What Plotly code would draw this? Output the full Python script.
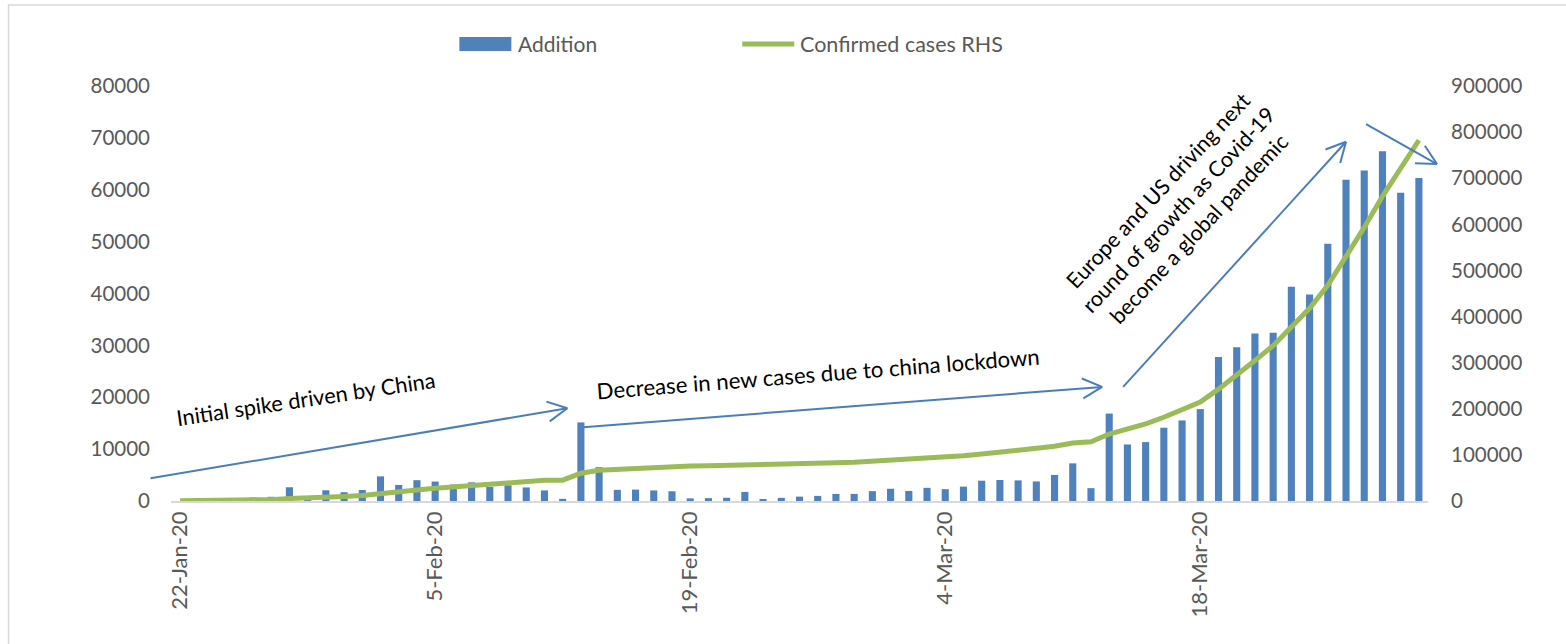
import math
import pandas as pd
import plotly.graph_objects as go

# ---------------- data ----------------
dates = pd.date_range("2020-01-22", "2020-03-30", freq="D")
categories = [f"{d.day}-{d.strftime('%b')}-{d.strftime('%y')}" for d in dates]

addition = [None, 99, 287, 493, 684, 809, 2651, 588, 2068, 1693,
            2111, 4749, 3094, 4011, 3743, 3159, 3597, 2729, 3030, 2612,
            2040, 419, 15147, 6517, 2145, 2194, 2034, 1878, 503, 558,
            622, 1753, 386, 603, 845, 982, 1358, 1366, 1899, 2358,
            1937, 2534, 2280, 2766, 3915, 4046, 3974, 3769, 5030, 7255,
            2477, 16853, 10896, 11353, 14120, 15528, 17719, 27749, 29638, 32299,
            32446, 41282, 39810, 49608, 61938, 63700, 67415, 59411, 62248]

confirmed = [555, 654, 941, 1434, 2118, 2927, 5578, 6166, 8234, 9927,
             12038, 16787, 19881, 23892, 27635, 30794, 34391, 37120, 40150, 42762,
             44802, 45221, 60368, 66885, 69030, 71224, 73258, 75136, 75639, 76197,
             76819, 78572, 78958, 79561, 80406, 81388, 82746, 84112, 86011, 88369,
             90306, 92840, 95120, 97886, 101801, 105847, 109821, 113590, 118620, 125875,
             128352, 145205, 156101, 167454, 181574, 197102, 214821, 242570, 272208, 304507,
             336953, 378235, 418045, 467653, 529591, 593291, 660706, 720117, 782365]

tick_labels = categories[::14]
left_ticks = list(range(0, 80001, 10000))
right_ticks = list(range(0, 900001, 100000))

series_names = ["Addition", "Confirmed cases RHS"]
notes = ["Initial spike driven by China",
         "Decrease in new cases due to china lockdown",
         "Europe and US driving next<br>round of growth as Covid-19<br>become a global pandemic"]

# ---------------- styling ----------------
W, H = 1566, 644
L, R, T, B = 170.5, 1428.0, 86.0, 500.7
BAR = "#4f81bd"
LINE = "#9bbb59"
ARROW = "#4a7ebb"
GREY = "#595959"
FONT = "Lato"


def px(x):
    return (x - L) / (R - L)


def py(y):
    return (B - y) / (B - T)


fig = go.Figure()
fig.add_trace(go.Bar(x=categories, y=addition, name=series_names[0],
                     marker=dict(color=BAR, line=dict(width=0)), yaxis="y"))
fig.add_trace(go.Scatter(x=categories, y=confirmed, name=series_names[1],
                         mode="lines", line=dict(color=LINE, width=5), yaxis="y2"))

shapes = []
# outer chart border
shapes.append(dict(type="rect", xref="paper", yref="paper",
                   x0=px(8), x1=px(1575), y0=py(655), y1=py(5),
                   line=dict(color="#d9d9d9", width=1.5), fillcolor="rgba(0,0,0,0)", layer="below"))


def arrow(x0, y0, x1, y1, head=True):
    shapes.append(dict(type="line", xref="paper", yref="paper",
                       x0=px(x0), y0=py(y0), x1=px(x1), y1=py(y1),
                       line=dict(color=ARROW, width=2)))
    if head:
        ang = math.atan2(y1 - y0, x1 - x0)
        hl = 22
        for s in (-1, 1):
            a = ang + math.pi + s * math.radians(27)
            hx, hy = x1 + hl * math.cos(a), y1 + hl * math.sin(a)
            shapes.append(dict(type="line", xref="paper", yref="paper",
                               x0=px(x1), y0=py(y1), x1=px(hx), y1=py(hy),
                               line=dict(color=ARROW, width=2)))


arrow(150, 478, 567, 408)
arrow(583, 427, 1102, 386.7)
arrow(1123, 386.7, 1346, 141.7)
arrow(1366, 124, 1437, 164)

# legend (custom, Excel-like)
shapes.append(dict(type="rect", xref="paper", yref="paper",
                   x0=px(459), x1=px(511), y0=py(51), y1=py(37),
                   line=dict(width=0), fillcolor=BAR))
shapes.append(dict(type="line", xref="paper", yref="paper",
                   x0=px(742), x1=px(794), y0=py(44), y1=py(44),
                   line=dict(color=LINE, width=5)))


def note(x, y, text, size, color, angle=0, anchor="center"):
    return dict(xref="paper", yref="paper", x=px(x), y=py(y), text=text,
                showarrow=False, xanchor=anchor, yanchor="middle", textangle=angle,
                align="center", font=dict(family=FONT, size=size, color=color))


annotations = [
    note(516, 44, series_names[0], 21, GREY, anchor="left"),
    note(798, 44, series_names[1], 21.5, GREY, anchor="left"),
    note(305, 398, notes[0], 21.8, "black", angle=-8.5),
    note(818, 373, notes[1], 22.2, "black", angle=-4.5),
    note(1178, 210, notes[2], 21.5, "black", angle=-47),
]

fig.update_layout(
    width=W, height=H,
    margin=dict(l=L, r=W - R, t=T, b=H - B, pad=0),
    paper_bgcolor="white", plot_bgcolor="white",
    showlegend=False,
    bargap=0.61,
    font=dict(family=FONT, color=GREY),
    xaxis=dict(type="category", categoryorder="array", categoryarray=categories,
               range=[-0.5, len(categories) - 0.5],
               tickmode="array", tickvals=tick_labels, ticktext=tick_labels,
               tickangle=-90, tickfont=dict(family=FONT, size=22, color=GREY),
               showline=True, linecolor="#d9d9d9", linewidth=1.5,
               showgrid=False, zeroline=False, ticks=""),
    yaxis=dict(range=[0, 80000], tickmode="array", tickvals=left_ticks,
               ticktext=[str(v) for v in left_ticks],
               tickfont=dict(family=FONT, size=20.5, color=GREY),
               showgrid=False, zeroline=False, showline=False, ticks="",
               ticklabelstandoff=20),
    yaxis2=dict(range=[0, 900000], tickmode="array", tickvals=right_ticks,
                ticktext=[str(v) for v in right_ticks],
                overlaying="y", side="right",
                tickfont=dict(family=FONT, size=20.5, color=GREY),
                showgrid=False, zeroline=False, showline=False, ticks="",
                ticklabelstandoff=22),
    shapes=shapes,
    annotations=annotations,
)

fig.write_html("out.html", config={"displayModeBar": False},
               post_script="document.body.style.margin='0';")
